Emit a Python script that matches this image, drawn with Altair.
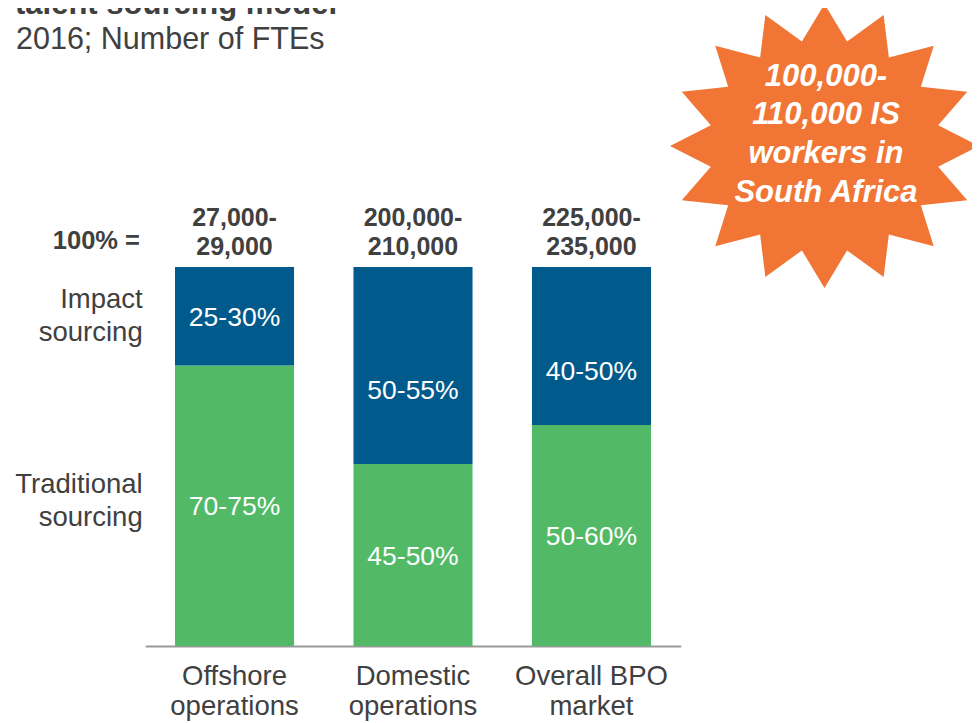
import math
import altair as alt
import pandas as pd

# ---------------- data ----------------
categories = ["Offshore\noperations", "Domestic\noperations", "Overall BPO\nmarket"]
segments = ["Impact sourcing", "Traditional sourcing"]
traditional_share = [0.74, 0.48, 0.583]
impact_share = [0.26, 0.52, 0.417]
traditional_labels = ["70-75%", "45-50%", "50-60%"]
impact_labels = ["25-30%", "50-55%", "40-50%"]
totals = ["27,000-\n29,000", "200,000-\n210,000", "225,000-\n235,000"]
row_labels = ["Impact\nsourcing", "Traditional\nsourcing"]
title_text = "talent sourcing model"
subtitle_text = "2016; Number of FTEs"
callout_text = "100,000-\n110,000 IS\nworkers in\nSouth Africa"

# ---------------- styles ----------------
BLUE = "#015A8C"
GREEN = "#52BA67"
ORANGE = "#F17636"
GRAY = "#404040"
FONT = "Liberation Sans"
PX_PER_SHARE = 379.0

rows = []
for c, t, i, tl, il in zip(categories, traditional_share, impact_share,
                           traditional_labels, impact_labels):
    rows.append(dict(category=c, segment=segments[1], y0=0.0, y1=t, label=tl,
                     label_y=t / 2))
    lab = t + i / 2
    if i > 0.35:  # labels in tall impact segments sit a little lower
        lab -= 24 / PX_PER_SHARE
    rows.append(dict(category=c, segment=segments[0], y0=t, y1=t + i, label=il,
                     label_y=lab))
df = pd.DataFrame(rows)
tot_df = pd.DataFrame(dict(category=categories, total=totals, top=[1.0] * 3))
cat_df = pd.DataFrame(dict(category=categories))

xscale = alt.Scale(domain=categories, range=[137.25, 672.75],
                   paddingInner=0.333, paddingOuter=0.1667)
yscale = alt.Scale(domain=[0, 1], range=[638, 259])
xaxis = alt.Axis(title=None, labels=False, ticks=False, grid=False,
                 domainColor="#9a9a9a", domainWidth=2)

x_enc = alt.X("category:N", sort=categories, scale=xscale, axis=xaxis)

# starburst shape (16 points, slightly flattened)
pts = []
for k in range(32):
    th = k * math.pi / 16
    r = 1.0 if k % 2 == 0 else 0.75
    pts.append((r * math.sin(th), -r * math.cos(th) * (141 / 153.5)))
star_path = "M" + " L".join(f"{x:.4f},{y:.4f}" for x, y in pts) + " Z"

one = pd.DataFrame({"k": [0]})

star = alt.Chart(one).mark_point(
    shape=star_path, size=309 ** 2, filled=True, color=ORANGE,
    opacity=1, strokeWidth=0
).encode(x=alt.value(816.5), y=alt.value(138))

star_text = alt.Chart(one).mark_text(
    text=callout_text, lineBreak="\n", lineHeight=38.8, font=FONT,
    fontSize=31, fontWeight="bold", fontStyle="italic", color="white",
    align="center", baseline="alphabetic"
).encode(x=alt.value(818), y=alt.value(77.5))

bars = alt.Chart(df).mark_bar().encode(
    x=x_enc,
    y=alt.Y("y0:Q", scale=yscale, axis=None),
    y2="y1:Q",
    color=alt.Color("segment:N", scale=alt.Scale(domain=segments, range=[BLUE, GREEN]),
                    legend=None),
)

seg_text = alt.Chart(df).mark_text(
    font=FONT, fontSize=26.5, color="white", align="center",
    baseline="alphabetic", dy=9.5
).encode(x=x_enc, y=alt.Y("label_y:Q", scale=yscale, axis=None), text="label:N")

tot_text = alt.Chart(tot_df).mark_text(
    font=FONT, fontSize=25, fontWeight="bold", color=GRAY, align="center",
    baseline="alphabetic", lineBreak="\n", lineHeight=29.5, dy=-41.5
).encode(x=x_enc, y=alt.Y("top:Q", scale=yscale, axis=None), text="total:N")

cat_text = alt.Chart(cat_df).mark_text(
    font=FONT, fontSize=27.5, color=GRAY, align="center",
    baseline="alphabetic", lineBreak="\n", lineHeight=30
).encode(x=x_enc, y=alt.value(677), text="category:N")

impact_row = alt.Chart(one).mark_text(
    text=row_labels[0], lineBreak="\n", lineHeight=33.5, font=FONT, fontSize=27.5,
    color=GRAY, align="right", baseline="alphabetic"
).encode(x=alt.value(134.7), y=alt.value(299.7))

trad_row = alt.Chart(one).mark_text(
    text=row_labels[1], lineBreak="\n", lineHeight=33.5, font=FONT, fontSize=27.5,
    color=GRAY, align="right", baseline="alphabetic"
).encode(x=alt.value(134.7), y=alt.value(484.7))

hundred = alt.Chart(one).mark_text(
    text="100% =", font=FONT, fontSize=25.5, fontWeight="bold", color=GRAY,
    align="right", baseline="alphabetic"
).encode(x=alt.value(132), y=alt.value(240.5))

title = alt.Chart(one).mark_text(
    text=title_text, font=FONT, fontSize=31, fontWeight="bold", color=GRAY,
    align="left", baseline="alphabetic"
).encode(x=alt.value(7), y=alt.value(6))

subtitle = alt.Chart(one).mark_text(
    text=subtitle_text, font=FONT, fontSize=30.5, color=GRAY,
    align="left", baseline="alphabetic"
).encode(x=alt.value(8), y=alt.value(40.5))

chart = alt.layer(
    star, star_text, bars, seg_text, tot_text, cat_text,
    impact_row, trad_row, hundred, title, subtitle
).properties(
    width=964, height=638,
    autosize=alt.AutoSizeParams(type="none"),
    padding={"left": 0, "top": 0, "right": 0, "bottom": 77},
).configure_view(stroke=None)

chart.save("out.html", embed_options={"renderer": "svg", "actions": False})
